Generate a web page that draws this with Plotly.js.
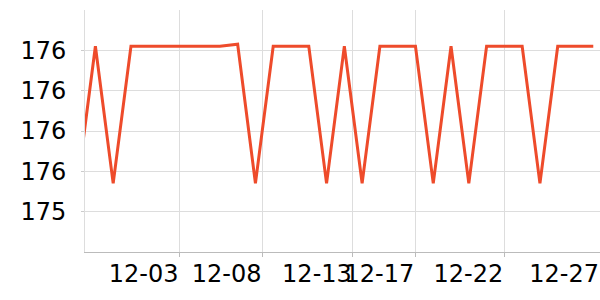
<!DOCTYPE html>
<html><head><meta charset="utf-8">
<script src="https://cdn.plot.ly/plotly-3.0.1.min.js"></script>
<style>html,body{margin:0;padding:0;background:#fff}#chart{width:600px;height:300px}</style>
</head><body><div id="chart"></div>
<script>
const dates = ['2023-11-28','2023-11-29','2023-11-30','2023-12-01','2023-12-02','2023-12-03','2023-12-04','2023-12-05','2023-12-06','2023-12-07',
  '2023-12-08','2023-12-09','2023-12-10','2023-12-11','2023-12-12','2023-12-13','2023-12-14','2023-12-15','2023-12-16','2023-12-17',
  '2023-12-18','2023-12-19','2023-12-20','2023-12-21','2023-12-22','2023-12-23','2023-12-24','2023-12-25','2023-12-26','2023-12-27'];
const values = [175.54,176.22,175.54,176.22,176.22,176.22,176.22,176.22,176.22,176.23,
  175.54,176.22,176.22,176.22,175.54,176.22,175.54,176.22,176.22,176.22,
  175.54,176.22,175.54,176.22,176.22,176.22,175.54,176.22,176.22,176.22];
const tickDates = ['2023-12-03 17:27','2023-12-08 09:32','2023-12-13 11:28','2023-12-16 23:38','2023-12-21 23:46','2023-12-27 09:04'];
const tickLabels = ['12-03','12-08','12-13','12-17','12-22','12-27'];
const yTicks = [175.4,175.6,175.8,176.0,176.2];

Plotly.newPlot('chart', [{
  x: dates, y: values, type: 'scatter', mode: 'lines',
  line: {color: '#ee4b2b', width: 3}, hoverinfo: 'skip'
}], {
  width: 600, height: 300,
  margin: {l: 85, r: 0, t: 10, b: 48},
  paper_bgcolor: '#fff', plot_bgcolor: '#fff',
  font: {family: 'DejaVu Sans', size: 24, color: '#000'},
  showlegend: false,
  xaxis: {
    type: 'date', range: ['2023-11-28 09:58', '2023-12-27 09:04'],
    tickmode: 'array', tickvals: tickDates, ticktext: tickLabels,
    ticklabelposition: 'outside left', tickangle: 0, ticklabeloverflow: 'allow',
    ticks: 'outside', ticklen: 4, tickcolor: '#bbb',
    showgrid: true, gridcolor: '#ddd', gridwidth: 1,
    showline: true, linecolor: '#bbb', linewidth: 1, zeroline: false
  },
  yaxis: {
    range: [175.2, 176.4], tickmode: 'array', tickvals: yTicks, tickformat: '.0f',
    ticks: 'outside', ticklen: 3, tickcolor: '#ccc', ticklabelstandoff: 10,
    showgrid: true, gridcolor: '#ddd', gridwidth: 1,
    showline: true, linecolor: '#ddd', linewidth: 1, zeroline: false
  }
}, {staticPlot: true});
</script></body></html>
